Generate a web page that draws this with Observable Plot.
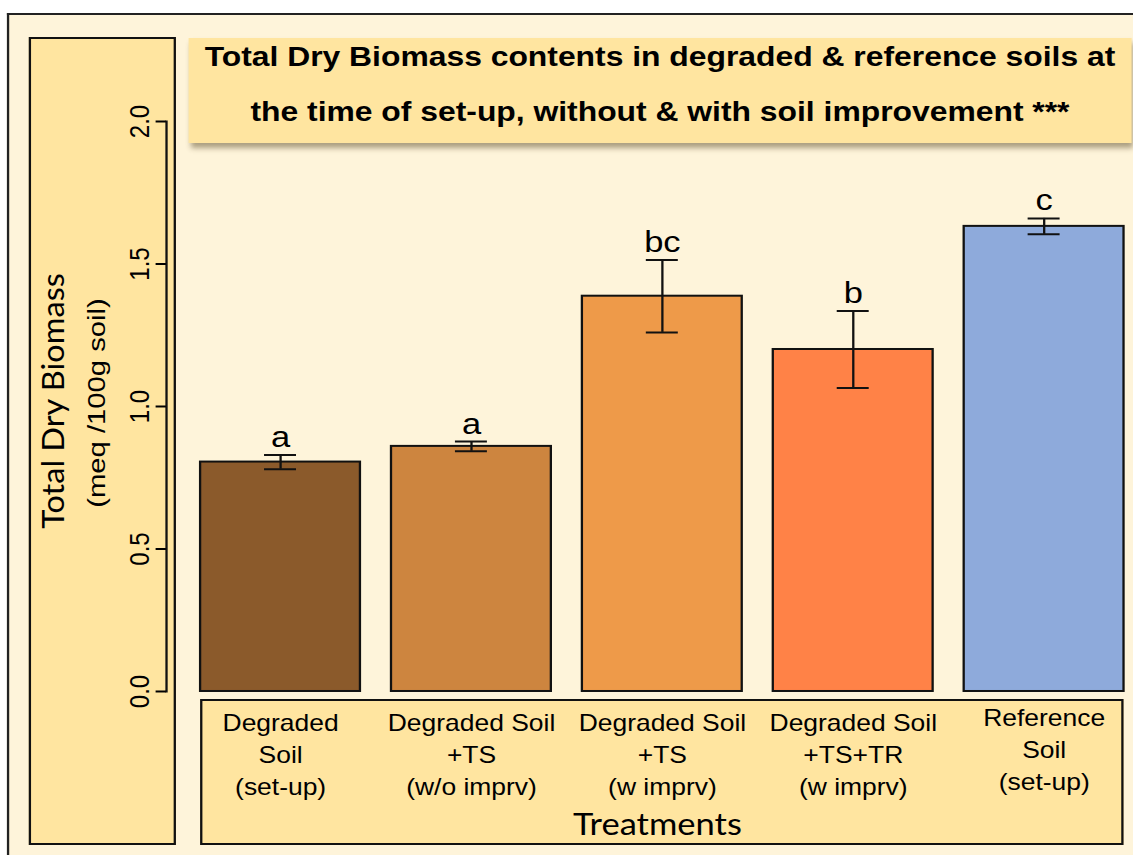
<!DOCTYPE html>
<html><head><meta charset="utf-8">
<script src="https://cdn.jsdelivr.net/npm/d3@7"></script>
<script src="https://cdn.jsdelivr.net/npm/@observablehq/plot@0.6"></script>
<style>
html,body{margin:0;padding:0;background:#fff;overflow:hidden;width:1133px;height:855px}
#stage{position:absolute;left:0;top:0;width:985.2px;height:855px;transform:scaleX(1.15);transform-origin:0 0}
.box{position:absolute;box-sizing:border-box}
#outer{left:6.1px;top:13px;width:1200px;height:1000px;border-left:2px solid #222;border-top:2px solid #222;background:#FEF4DA}
#ybox{left:25.2px;top:37px;width:127.8px;height:808px;border:2px solid #111;background:#FFE5A0}
#titlebox{left:163.5px;top:38px;width:820.8px;height:105px;background:#FFE5A0;box-shadow:2px 5px 5px rgba(70,55,20,0.45)}
#xbox{left:173.9px;top:699px;width:803.5px;height:146px;border:2px solid #111;background:#FFE5A0}
.tl{position:absolute;left:0;right:0;text-align:center;font:bold 27.7px "Liberation Sans",Arial,sans-serif;line-height:40px;color:#000;white-space:nowrap}
#chart{position:absolute;left:0;top:0}
.rot{position:absolute;white-space:nowrap;color:#000;line-height:1}
#ytitle{left:46px;top:401px;font:26px Lato,sans-serif;transform:translate(-50%,-50%) rotate(-90deg) scaleX(1.25)}
#yunit{left:85.2px;top:403px;font:21.5px "Liberation Sans",Arial,sans-serif;transform:translate(-50%,-50%) rotate(-90deg) scaleX(1.36)}
#xtitle{position:absolute;left:571.7px;top:823px;font:30px Lato,sans-serif;transform:translate(-50%,-50%);white-space:nowrap;line-height:1;color:#000}
</style></head><body>
<div id="stage">
  <div class="box" id="outer"></div>
  <div class="box" id="ybox"></div>
  <div class="box" id="titlebox">
    <div class="tl" style="top:-1px">Total Dry Biomass contents in degraded &amp; reference soils at</div>
    <div class="tl" style="top:54px">the time of set-up, without &amp; with soil improvement ***</div>
  </div>
  <div class="box" id="xbox"></div>
  <div id="chart"></div>
  <div class="rot" id="ytitle">Total Dry Biomass</div>
  <div class="rot" id="yunit">(meq /100g soil)</div>
  <div id="xtitle">Treatments</div>
</div>
<script>
const categories = [
  "Degraded\nSoil\n(set-up)",
  "Degraded Soil\n+TS\n(w/o imprv)",
  "Degraded Soil\n+TS\n(w imprv)",
  "Degraded Soil\n+TS+TR\n(w imprv)",
  "Reference\nSoil\n(set-up)"
];
const means = [0.805, 0.86, 1.387, 1.2, 1.632];
const errors = [0.025, 0.017, 0.127, 0.135, 0.028];
const letters = ["a", "a", "bc", "b", "c"];
const colors = ["#8B5A2B", "#CD853F", "#EE9A49", "#FF8247", "#8EAADB"];
const yTicks = [0, 0.5, 1, 1.5, 2];

const data = categories.map((c, i) => ({cat: c, mean: means[i], se: errors[i], letter: letters[i], color: colors[i]}));
const ink = "#111";

const chart = Plot.plot({
  width: 985.2, height: 855,
  marginLeft: 144.3, marginRight: 8, marginTop: 121, marginBottom: 164,
  style: {background: "transparent", fontFamily: "'Liberation Sans', Arial, sans-serif", overflow: "visible", color: "#000"},
  x: {type: "band", domain: categories, range: [173.9, 977.4], paddingInner: 0.162, paddingOuter: 0, axis: null},
  y: {domain: [0, 2], axis: null},
  color: {type: "identity"},
  marks: [
    Plot.frame({anchor: "left", stroke: ink, strokeWidth: 2}),
    Plot.axisY({ticks: yTicks, tickSize: 9, tickPadding: 6.6, tickRotate: -90, tickFormat: d => d.toFixed(1), fontSize: 24, label: null, strokeWidth: 2}),
    Plot.barY(data, {x: "cat", y: "mean", fill: "color", stroke: ink, strokeWidth: 2}),
    Plot.ruleX(data, {x: "cat", y1: d => d.mean - d.se, y2: d => d.mean + d.se, stroke: ink, strokeWidth: 2}),
    Plot.tickY(data, {x: "cat", y: d => d.mean + d.se, insetLeft: 55.6, insetRight: 55.6, stroke: ink, strokeWidth: 2}),
    Plot.tickY(data, {x: "cat", y: d => d.mean - d.se, insetLeft: 55.6, insetRight: 55.6, stroke: ink, strokeWidth: 2}),
    Plot.text(data, {x: "cat", y: d => d.mean + d.se, text: "letter", dy: -8, lineAnchor: "bottom", fontSize: 30, fill: "#000"}),
    Plot.axisX(categories.slice(0, 4), {anchor: "bottom", tickSize: 0, tickPadding: 17, fontSize: 23, lineHeight: 1.39, label: null, fill: "#000"}),
    Plot.axisX(categories.slice(4), {anchor: "bottom", tickSize: 0, tickPadding: 12, fontSize: 23, lineHeight: 1.39, label: null, fill: "#000"})
  ]
});
document.getElementById("chart").appendChild(chart);
</script>
</body></html>
